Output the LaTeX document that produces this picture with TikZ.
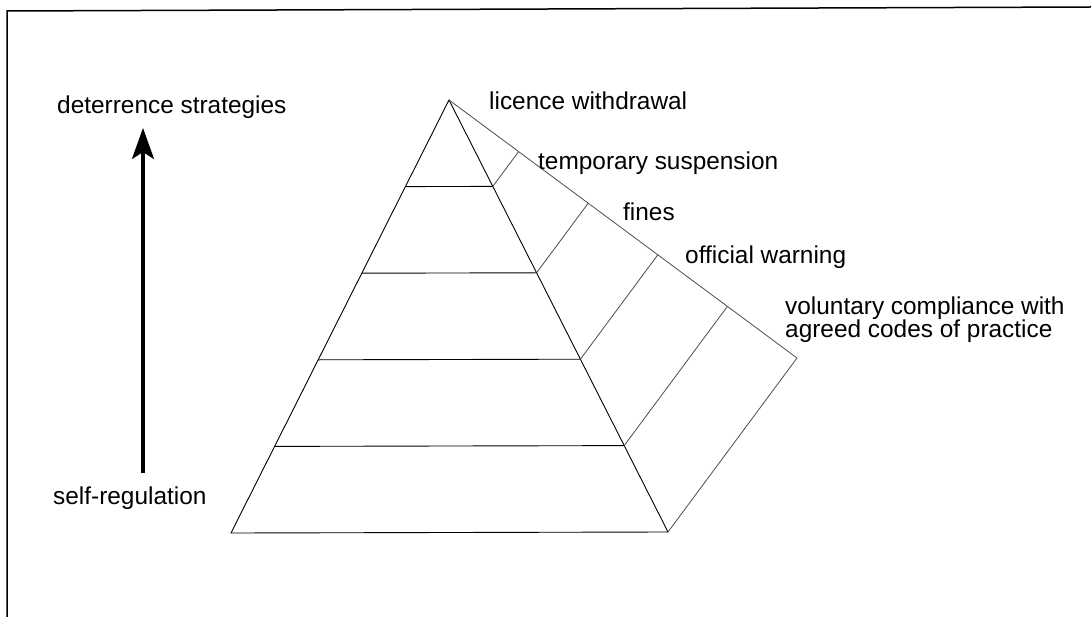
\documentclass[tikz,border=0pt]{standalone}
\usepackage{fontspec}
\setmainfont{Liberation Sans}
\usetikzlibrary{arrows.meta, calc, positioning}

\tikzset{
  face/.style={line width=0.9pt},
  sideline/.style={line width=0.8pt, black!70},
  lbl/.style={anchor=west, inner sep=0pt}
}

\begin{document}
\begin{tikzpicture}[x=1pt, y=-1pt, font=\fontsize{24.4}{23}\selectfont]

	\useasboundingbox (0,0) rectangle (1091,617);

	% frame
	\draw[line width=1.5pt] (1091,7) -- (7,11) -- (7,617);

	% pyramid
	\coordinate (top) at (449,100);
	\coordinate (bl) at (231,533);
	\coordinate (br) at (668,532);
	\coordinate (back) at (797,358);

	\draw[face] (bl) -- (top) -- (br) -- cycle;
	\draw[sideline] (top) -- (back) -- (br);

	\foreach \i/\t in {1/0.2, 2/0.4, 3/0.6, 4/0.8} {
		\coordinate (l\i) at ($(top)!\t!(bl)$);
		\coordinate (r\i) at ($(top)!\t!(br)$);
		\coordinate (b\i) at ($(top)!\t!(back)$);
		\draw[face] (l\i) -- (r\i);
		\draw[sideline] (r\i) -- (b\i);
	}

	% labels
	\node[lbl] (licence) at (489,101) {licence withdrawal};
	\node[lbl] (temp) at (538,163) {temporary suspension};
	\node[lbl] (fines) at (623,212) {fines};
	\node[lbl] (warn) at (685,257) {official warning};
	\node[lbl, align=left] (vol) at (785,320) {voluntary compliance with\\agreed codes of practice};

	\node[lbl] (deter) at (57,107) {deterrence strategies};
	\node[lbl] (self) at (53,498) {self-regulation};

	% arrow
	\coordinate (lo) at (143,473);
	\coordinate (hi) at (143,128);
	\draw[line width=3.5pt, -{Stealth[length=31pt, width=22pt, inset=7pt]}] (lo) -- (hi);

\end{tikzpicture}
\end{document}
